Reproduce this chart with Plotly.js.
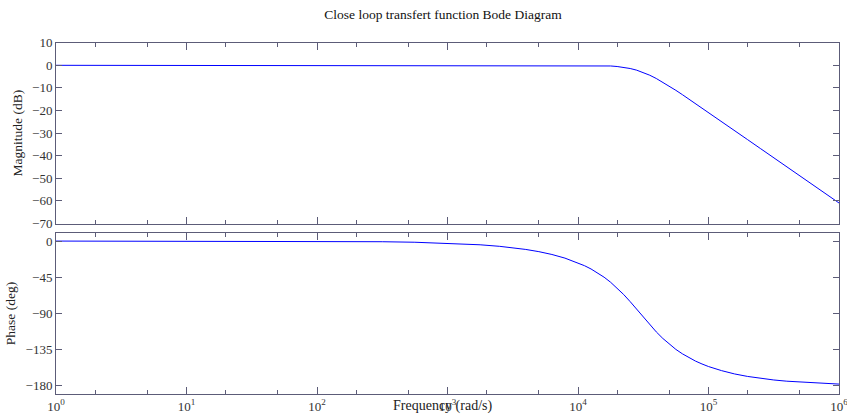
<!DOCTYPE html>
<html>
<head>
<meta charset="utf-8">
<script src="https://cdn.plot.ly/plotly-3.0.1.min.js"></script>
<style>html,body{margin:0;padding:0;background:#fff;}#chart{width:847px;height:417px;}</style>
</head>
<body>
<div id="chart"></div>
<script>
// Frequencies (rad/s) sampled along the curve
const freq = [1, 10, 100, 316.2, 562.3, 1000, 1778, 2512, 3162, 3981, 5012, 6310, 7943, 10000, 11220, 12590, 14130, 15850, 17780, 19950, 22390, 25120, 28180, 31620, 35480, 39810, 44670, 50120, 56230, 63100, 70790, 79430, 89130, 100000, 125900, 158500, 199500, 251200, 316200, 398100, 562300, 794300, 1000000];
// Magnitude (dB)
const magnitude = [0, 0, 0, 0, 0, 0, 0, 0, 0.01, 0.01, 0.015, 0.02, 0.024, 0.02, 0.006, -0.02, -0.07, -0.15, -0.3, -0.53, -0.89, -1.42, -2.16, -3.15, -4.39, -5.84, -7.47, -9.23, -11.08, -12.99, -14.94, -16.91, -18.9, -20.89, -24.89, -28.9, -32.9, -36.91, -40.91, -44.91, -50.91, -56.92, -60.91];
// Phase (deg)
const phase = [0, -0.03, -0.26, -0.82, -1.46, -2.6, -4.63, -6.54, -8.25, -10.41, -13.15, -16.66, -21.17, -27.0, -30.6, -34.7, -39.45, -44.9, -51.18, -58.3, -66.42, -75.3, -84.75, -94.4, -103.9, -112.9, -121.0, -128.3, -134.6, -140.1, -144.9, -149.1, -152.7, -155.9, -161.0, -165.1, -168.2, -170.6, -172.6, -174.1, -175.8, -177.1, -177.7];

const xTickVals = [1, 10, 100, 1000, 10000, 100000, 1000000];
const xTickText = ['10<sup>0</sup>', '10<sup>1</sup>', '10<sup>2</sup>', '10<sup>3</sup>', '10<sup>4</sup>', '10<sup>5</sup>', '10<sup>6</sup>'];
const magTicks = [-70, -60, -50, -40, -30, -20, -10, 0, 10];
const phaseTicks = [-180, -135, -90, -45, 0];

const axisColor = '#5c5c78';
const fontFam = '"Liberation Serif", "Times New Roman", serif';
const tickFont = {family: fontFam, size: 13, color: '#333333'};

const traces = [
  {x: freq, y: magnitude, type: 'scatter', mode: 'lines', line: {color: '#0000ff', width: 1}, xaxis: 'x', yaxis: 'y', hoverinfo: 'skip'},
  {x: freq, y: phase, type: 'scatter', mode: 'lines', line: {color: '#0000ff', width: 1}, xaxis: 'x2', yaxis: 'y2', hoverinfo: 'skip'}
];

const xBase = {
  type: 'log', range: [0, 6], showgrid: false, zeroline: false,
  showline: true, linecolor: axisColor, linewidth: 1, mirror: 'ticks',
  ticks: 'inside', ticklen: 7, tickcolor: axisColor,
  tickvals: xTickVals, ticklabeloverflow: 'allow',
  minor: {ticks: 'inside', ticklen: 4, tickcolor: axisColor, showgrid: false},
  automargin: false
};
const yBase = {
  showgrid: false, zeroline: false, showline: true, linecolor: axisColor, linewidth: 1,
  mirror: 'ticks', ticks: 'inside', ticklen: 6, tickcolor: axisColor,
  tickfont: tickFont, automargin: false
};

const layout = {
  width: 847, height: 417,
  margin: {l: 56, r: 8, t: 0, b: 0},
  paper_bgcolor: '#ffffff', plot_bgcolor: '#ffffff',
  showlegend: false,
  font: {family: fontFam, size: 13, color: '#222222'},
  title: {text: 'Close loop transfert function Bode Diagram', font: {family: fontFam, size: 13.5, color: '#111111'}, x: 0.523, xanchor: 'center', y: 0.965, yanchor: 'middle'},
  xaxis: Object.assign({}, xBase, {domain: [0, 1], anchor: 'y', showticklabels: false}),
  yaxis: Object.assign({}, yBase, {domain: [0.464, 0.8976], range: [-70, 10], tickvals: magTicks,
    title: {text: 'Magnitude (dB)', font: {family: fontFam, size: 13.5, color: '#222222'}, standoff: 6}}),
  xaxis2: Object.assign({}, xBase, {domain: [0, 1], anchor: 'y2', ticktext: xTickText, tickfont: tickFont, showticklabels: true}),
  yaxis2: Object.assign({}, yBase, {domain: [0.0552, 0.4412], range: [-190, 10], tickvals: phaseTicks,
    title: {text: 'Phase (deg)', font: {family: fontFam, size: 13.5, color: '#222222'}, standoff: 6}}),
  annotations: [
    {text: 'Frequency (rad/s)', xref: 'paper', yref: 'paper', x: 0.494, y: 0.026, xanchor: 'center', yanchor: 'middle', showarrow: false, font: {family: fontFam, size: 14, color: '#222222'}}
  ]
};

Plotly.newPlot('chart', traces, layout, {staticPlot: true, displayModeBar: false});
</script>
</body>
</html>
